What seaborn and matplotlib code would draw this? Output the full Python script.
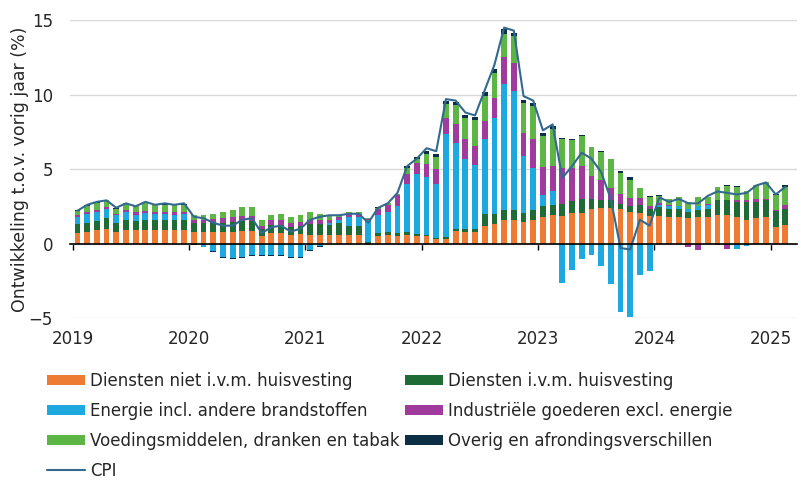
import matplotlib
matplotlib.use('Agg')
import matplotlib.pyplot as plot
import numpy as np
import pandas as pd
import seaborn as sns

# maandelijkse bijdragen aan de inflatie, jan 2019 t/m feb 2025 (procentpunt)
years = ['2019', '2020', '2021', '2022', '2023', '2024', '2025']

diensten_niet = [0.7, 0.8, 0.9, 1.0, 0.8, 0.9, 0.9, 0.9, 0.9, 0.9, 0.9, 0.9,
                 0.8, 0.8, 0.8, 0.8, 0.8, 0.85, 0.85, 0.5, 0.7, 0.7, 0.6, 0.65,
                 0.6, 0.55, 0.55, 0.6, 0.55, 0.6, -0.1, 0.5, 0.55, 0.5, 0.6, 0.5,
                 0.5, 0.3, 0.3, 0.85, 0.8, 0.8, 1.2, 1.3, 1.55, 1.55, 1.45, 1.55,
                 1.8, 1.95, 1.85, 2.05, 2.05, 2.3, 2.4, 2.4, 2.3, 2.15, 2.05, 1.85,
                 1.85, 1.8, 1.8, 1.7, 1.8, 1.8, 1.9, 1.9, 1.8, 1.55, 1.7, 1.8,
                 1.1, 1.25]
diensten_huis = [0.6, 0.6, 0.6, 0.7, 0.6, 0.7, 0.6, 0.7, 0.7, 0.7, 0.7, 0.7,
                 0.6, 0.6, 0.6, 0.6, 0.65, 0.65, 0.65, 0.45, 0.55, 0.55, 0.5, 0.5,
                 0.7, 0.75, 0.7, 0.8, 0.6, 0.55, 0.1, 0.2, 0.2, 0.2, 0.2, 0.15,
                 0.1, 0.1, 0.15, 0.1, 0.15, 0.15, 0.8, 0.7, 0.7, 0.7, 0.6, 0.7,
                 0.75, 0.65, 0.8, 0.8, 0.95, 0.7, 0.55, 0.55, 0.35, 0.35, 0.55, 0.45,
                 0.6, 0.55, 0.5, 0.4, 0.45, 0.5, 1.0, 1.05, 1.0, 1.25, 1.1, 1.1,
                 1.1, 1.1]
energie = [0.5, 0.6, 0.6, 0.6, 0.5, 0.5, 0.45, 0.45, 0.4, 0.4, 0.35, 0.4,
           -0.05, -0.2, -0.5, -0.9, -1.0, -0.9, -0.8, -0.8, -0.8, -0.8, -0.9, -0.9,
           -0.45, -0.15, 0.1, 0.2, 0.65, 0.65, 1.45, 1.25, 1.35, 1.85, 3.2, 4.0,
           3.85, 3.6, 6.9, 5.8, 4.75, 4.3, 5.0, 6.4, 8.45, 8.0, 3.8, 2.8,
           0.7, 0.9, -2.65, -1.75, -1.05, -0.8, -1.5, -2.7, -4.6, -4.95, -2.1, -1.85,
           0.15, 0.2, 0.2, 0.2, 0.3, 0.3, 0.05, 0.0, -0.4, -0.15, 0.0, 0.05,
           0.0, -0.05]
industrie = [0.1, 0.15, 0.15, 0.15, 0.1, 0.15, 0.15, 0.15, 0.15, 0.15, 0.2, 0.15,
             0.2, 0.2, 0.25, 0.3, 0.35, 0.35, 0.35, 0.25, 0.3, 0.3, 0.25, 0.3,
             0.3, 0.3, 0.25, 0.2, 0.2, 0.2, 0.1, 0.4, 0.5, 0.7, 0.7, 0.75,
             0.86, 1.0, 1.1, 1.25, 1.35, 1.3, 1.25, 1.35, 1.8, 1.9, 1.6, 2.0,
             1.9, 1.7, 2.45, 2.25, 2.2, 1.55, 1.35, 0.8, 0.7, 0.55, 0.45, 0.25,
             0.1, 0.05, 0.05, -0.2, -0.45, 0.05, -0.1, -0.35, 0.1, 0.1, 0.2, 0.05,
             0.05, 0.25]
voeding = [0.3, 0.4, 0.5, 0.45, 0.35, 0.45, 0.4, 0.55, 0.45, 0.45, 0.45, 0.45,
           0.3, 0.3, 0.35, 0.45, 0.45, 0.6, 0.6, 0.35, 0.4, 0.45, 0.4, 0.45,
           0.5, 0.4, 0.3, 0.1, 0.1, 0.1, 0.05, 0.05, 0.1, 0.05, 0.4, 0.3,
           0.7, 0.8, 0.9, 1.3, 1.35, 1.75, 1.65, 1.7, 1.6, 1.8, 2.0, 2.2,
           2.05, 2.5, 1.9, 1.85, 2.0, 1.9, 1.85, 1.9, 1.4, 1.25, 0.7, 0.6,
           0.5, 0.4, 0.55, 0.5, 0.55, 0.45, 0.85, 0.9, 0.9, 0.6, 0.9, 1.1,
           1.0, 1.2]
overig = [0.05] * 12 + [-0.05] * 12 + \
         [-0.05, -0.1, -0.05, 0, 0, 0, 0, 0.05, 0.05, 0.05, 0.1, 0.1,
          0.2, 0.2, 0.2, 0.2, 0.2, 0.2, 0.3, 0.3, 0.3, 0.2, 0.2, 0.2,
          0.2, 0.2, 0.1, 0.1, 0.1, 0.05, 0.05, 0.05, 0.1, 0.15, 0.0, 0.05,
          0.05, 0, 0, 0, 0, 0, 0, 0.1, 0.05, 0, 0.05, 0.05,
          0.05, 0.1]
cpi = [2.2, 2.6, 2.8, 2.9, 2.4, 2.7, 2.5, 2.8, 2.6, 2.7, 2.6, 2.7,
       1.8, 1.7, 1.4, 1.2, 1.2, 1.6, 1.7, 0.7, 1.1, 1.2, 0.8, 1.0,
       1.6, 1.8, 1.9, 1.9, 2.0, 2.0, 1.4, 2.4, 2.7, 3.4, 5.2, 5.7,
       6.4, 6.2, 9.7, 9.6, 8.8, 8.6, 10.3, 12.0, 14.5, 14.3, 9.9, 9.6,
       7.6, 8.0, 4.4, 5.2, 6.1, 5.7, 4.8, 3.0, -0.3, -0.4, 1.6, 1.2,
       3.1, 2.8, 3.0, 2.7, 2.7, 3.2, 3.5, 3.4, 3.3, 3.4, 3.9, 4.1,
       3.3, 3.8]

series = [
    ('Diensten niet i.v.m. huisvesting', diensten_niet, '#ee7b33'),
    ('Diensten i.v.m. huisvesting', diensten_huis, '#1f6b36'),
    ('Energie incl. andere brandstoffen', energie, '#1ea8e0'),
    ('Industriële goederen excl. energie', industrie, '#a03a9c'),
    ('Voedingsmiddelen, dranken en tabak', voeding, '#5db545'),
    ('Overig en afrondingsverschillen', overig, '#0d2f45'),
]

df = pd.DataFrame({name: vals for name, vals, _ in series})
df['CPI'] = cpi
df['maand'] = np.arange(len(df))

sns.set_theme(style='white')
plot.rcParams['font.family'] = ['DejaVu Sans']
fs = 12

fig = plot.figure(figsize=(8.01, 4.8), dpi=100)
ax = fig.add_axes([0.087, 0.3375, 0.908, 0.6205])

# gestapelde staven, positief omhoog en negatief omlaag
pos = np.zeros(len(df))
neg = np.zeros(len(df))
handles = {}
for name, _, color in series:
    v = df[name].to_numpy()
    bottom = np.where(v >= 0, pos, neg)
    handles[name] = ax.bar(df['maand'], v, bottom=bottom, width=0.6, color=color,
                           linewidth=0, zorder=2)
    pos += np.clip(v, 0, None)
    neg += np.clip(v, None, 0)

sns.lineplot(data=df, x='maand', y='CPI', ax=ax, color='#33698f', lw=1.5,
             legend=False, zorder=3)
handles['CPI'] = ax.lines[-1]

ax.set_ylim(-5, 15)
ax.set_xlim(-0.8, 74.2)
ax.set_yticks([-5, 0, 5, 10, 15])
ax.yaxis.grid(True, color='#d9d9d9', lw=1)
ax.set_axisbelow(True)
ax.tick_params(axis='y', length=0, labelsize=fs, pad=12)
ax.set_ylabel('Ontwikkeling t.o.v. vorig jaar (%)', fontsize=12.5, labelpad=0)
ax.set_xlabel('')

for s in ['top', 'right', 'left']:
    ax.spines[s].set_visible(False)
ax.spines['bottom'].set_position(('data', 0))
ax.spines['bottom'].set_color('black')
ax.spines['bottom'].set_linewidth(1.2)
ax.spines['bottom'].set_zorder(4)

year_pos = [-0.5 + 12 * i for i in range(len(years))]
ax.set_xticks(year_pos)
ax.tick_params(axis='x', direction='out', length=4, width=1, color='black',
               labelbottom=False, bottom=True)

sec = ax.secondary_xaxis('bottom')
sec.set_xticks(year_pos, years)
sec.tick_params(length=0, labelsize=fs, pad=9)
sec.spines['bottom'].set_visible(False)

names = [s[0] for s in series]
leg_kw = dict(loc='upper left', frameon=False, fontsize=fs, handlelength=2.3,
              handleheight=0.6, handletextpad=0.3, labelspacing=0.72,
              borderpad=0, borderaxespad=0)
col1 = [names[0], names[2], names[4], 'CPI']
col2 = [names[1], names[3], names[5]]
fig.legend([handles[n] for n in col1], col1,
           bbox_to_anchor=(47 / 801, 1 - 372 / 480), **leg_kw)
fig.legend([handles[n] for n in col2], col2,
           bbox_to_anchor=(405 / 801, 1 - 372 / 480), **leg_kw)

fig.savefig('out.png', dpi=100)
